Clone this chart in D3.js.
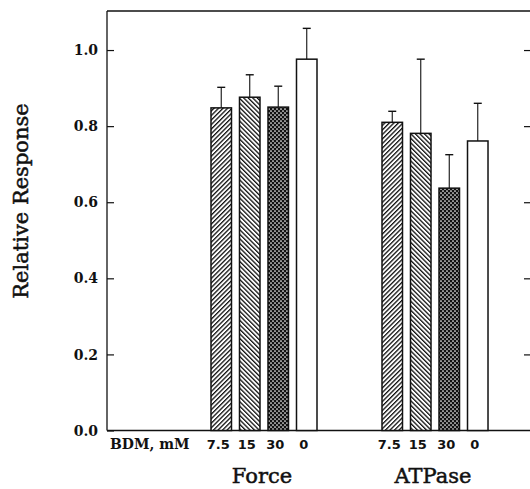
<!DOCTYPE html>
<html>
<head>
<meta charset="utf-8">
<script src="https://cdn.jsdelivr.net/npm/d3@7"></script>
<style>
  html, body { margin: 0; padding: 0; background: #fff; }
  svg { display: block; }
</style>
</head>
<body>
<svg id="chart" width="530" height="489"></svg>
<script>
// ---- data ----
const groups = ["Force", "ATPase"];
const bdmLevels = ["7.5", "15", "30", "0"];
const forceValues = [0.848, 0.876, 0.850, 0.976];
const forceErrors = [0.054, 0.059, 0.055, 0.081];
const atpaseValues = [0.810, 0.781, 0.637, 0.761];
const atpaseErrors = [0.029, 0.195, 0.088, 0.099];
const yTicks = [0, 0.2, 0.4, 0.6, 0.8, 1.0];
const yLabel = "Relative Response";
const xAxisLabel = "BDM, mM";

const seriesValues = { Force: forceValues, ATPase: atpaseValues };
const seriesErrors = { Force: forceErrors, ATPase: atpaseErrors };

// slots: 4 bars per group, 2 empty slots between groups
const slots = [];
groups.forEach((g, gi) => {
  bdmLevels.forEach(b => slots.push(g + "|" + b));
  if (gi < groups.length - 1) { slots.push("gap" + gi + "a"); slots.push("gap" + gi + "b"); }
});
const bars = [];
groups.forEach(g => bdmLevels.forEach((b, i) => bars.push({
  group: g, level: b, idx: i, key: g + "|" + b,
  value: seriesValues[g][i], err: seriesErrors[g][i]
})));

// ---- layout ----
const svg = d3.select("#chart");
const mLeft = 107, mRight = 531, mTop = 12, mBottom = 430.5;

const x = d3.scaleBand().domain(slots).range([207, 492]).paddingInner(0.2807).paddingOuter(0.14);
const y = d3.scaleLinear().domain([0, 1.1]).range([mBottom, mTop]);

// patterns
const defs = svg.append("defs");
const p1 = defs.append("pattern").attr("id", "hatchA").attr("patternUnits", "userSpaceOnUse")
  .attr("width", 3.2).attr("height", 3.2).attr("patternTransform", "rotate(45)");
p1.append("rect").attr("width", 3.2).attr("height", 3.2).attr("fill", "#fff");
p1.append("rect").attr("width", 1.3).attr("height", 3.2).attr("fill", "#111");
const p2 = defs.append("pattern").attr("id", "hatchB").attr("patternUnits", "userSpaceOnUse")
  .attr("width", 3.2).attr("height", 3.2).attr("patternTransform", "rotate(-45)");
p2.append("rect").attr("width", 3.2).attr("height", 3.2).attr("fill", "#fff");
p2.append("rect").attr("width", 1.3).attr("height", 3.2).attr("fill", "#111");
const p3 = defs.append("pattern").attr("id", "dots").attr("patternUnits", "userSpaceOnUse")
  .attr("width", 4).attr("height", 4);
p3.append("rect").attr("width", 4).attr("height", 4).attr("fill", "#111");
p3.append("circle").attr("cx", 1).attr("cy", 1).attr("r", 0.85).attr("fill", "#fff");
p3.append("circle").attr("cx", 3).attr("cy", 3).attr("r", 0.85).attr("fill", "#fff");
const fills = ["url(#hatchA)", "url(#hatchB)", "url(#dots)", "#fff"];

// frame
const frame = svg.append("g").attr("stroke", "#111").attr("stroke-width", 1.3).attr("fill", "none");
frame.append("line").attr("x1", mLeft).attr("x2", mRight).attr("y1", mTop - 1).attr("y2", mTop - 1);
frame.append("line").attr("x1", mLeft).attr("x2", mLeft).attr("y1", mTop - 1).attr("y2", mBottom);
frame.append("line").attr("x1", mLeft).attr("x2", mRight).attr("y1", mBottom).attr("y2", mBottom);

// left axis (inward ticks)
const yAxisL = d3.axisRight(y).tickValues(yTicks).tickSize(7).tickFormat("");
const gL = svg.append("g").attr("transform", `translate(${mLeft},0)`).call(yAxisL);
gL.select(".domain").remove();
gL.selectAll(".tick line").attr("stroke", "#111").attr("stroke-width", 1.2);
svg.append("g").selectAll("text").data(yTicks).join("text")
  .attr("x", 98).attr("y", d => y(d)).attr("dy", "0.37em")
  .attr("text-anchor", "end")
  .attr("font-family", "DejaVu Serif").attr("font-weight", "bold").attr("font-size", 14)
  .attr("fill", "#111")
  .text(d3.format(".1f"));

// right axis (inward ticks)
const yAxisR = d3.axisLeft(y).tickValues(yTicks.slice(1)).tickSize(7).tickFormat("");
const gR = svg.append("g").attr("transform", `translate(${mRight},0)`).call(yAxisR);
gR.select(".domain").remove();
gR.selectAll(".tick line").attr("stroke", "#111").attr("stroke-width", 1.2);

// error bars
const eb = svg.append("g").attr("stroke", "#111").attr("stroke-width", 1.1);
eb.selectAll("line.v").data(bars).join("line").attr("class", "v")
  .attr("x1", d => x(d.key) + x.bandwidth() / 2).attr("x2", d => x(d.key) + x.bandwidth() / 2)
  .attr("y1", d => y(d.value)).attr("y2", d => y(d.value + d.err));
eb.selectAll("line.c").data(bars).join("line").attr("class", "c")
  .attr("x1", d => x(d.key) + x.bandwidth() / 2 - 4).attr("x2", d => x(d.key) + x.bandwidth() / 2 + 4)
  .attr("y1", d => y(d.value + d.err)).attr("y2", d => y(d.value + d.err))
  .attr("stroke-width", 1.4);

// bars
svg.append("g").selectAll("rect").data(bars).join("rect")
  .attr("x", d => x(d.key)).attr("width", x.bandwidth())
  .attr("y", d => y(d.value)).attr("height", d => y(0) - y(d.value))
  .attr("fill", d => fills[d.idx])
  .attr("stroke", "#111").attr("stroke-width", 1.5);

// x labels
svg.append("text").attr("x", 110).attr("y", 448.5)
  .attr("font-family", "DejaVu Serif").attr("font-weight", "bold").attr("font-size", 14)
  .attr("fill", "#111").text(xAxisLabel);
svg.append("g").selectAll("text").data(bars).join("text")
  .attr("x", d => x(d.key) + x.bandwidth() / 2 - 3).attr("y", 448.5)
  .attr("text-anchor", "middle")
  .attr("font-family", "DejaVu Sans").attr("font-weight", "bold").attr("font-size", 13)
  .attr("fill", "#111").text(d => d.level);

// group labels
svg.append("g").selectAll("text").data(groups).join("text")
  .attr("x", g => (x(g + "|" + bdmLevels[0]) + x(g + "|" + bdmLevels[bdmLevels.length - 1]) + x.bandwidth()) / 2 - 2)
  .attr("y", 483)
  .attr("text-anchor", "middle")
  .attr("font-family", "DejaVu Serif").attr("font-size", 21)
  .attr("fill", "#111").attr("stroke", "#111").attr("stroke-width", 0.5).text(g => g);

// y title
svg.append("text").attr("transform", "translate(28,201) rotate(-90)")
  .attr("text-anchor", "middle")
  .attr("font-family", "DejaVu Serif").attr("font-size", 21)
  .attr("fill", "#111").attr("stroke", "#111").attr("stroke-width", 0.5).text(yLabel);
</script>
</body>
</html>
